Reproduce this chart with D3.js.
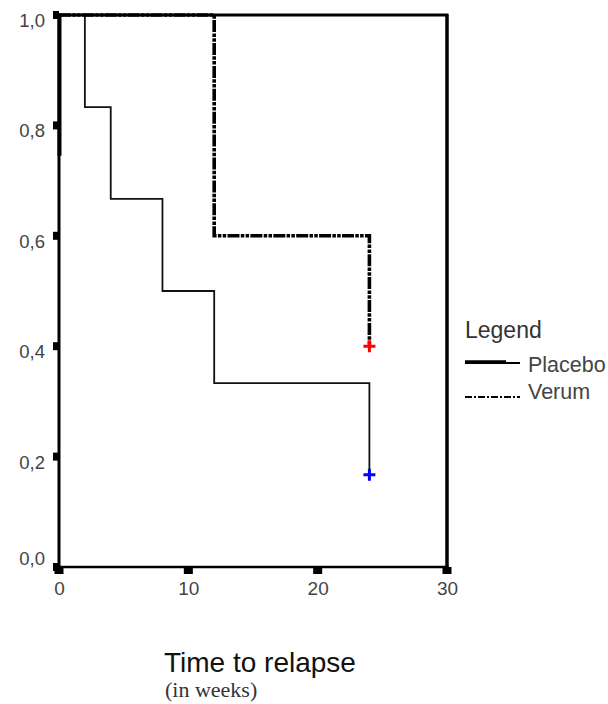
<!DOCTYPE html>
<html>
<head>
<meta charset="utf-8">
<script src="https://cdn.jsdelivr.net/npm/d3@7"></script>
<style>
body{margin:0;background:#fff;}
text{font-family:"Liberation Sans",Arial,sans-serif;}
</style>
</head>
<body>
<script>
// data
var placeboTime=[0,2,4,8,12,24];
var placeboSurv=[1,0.833,0.667,0.5,0.333,0.167];
var verumTime=[0,12,24];
var verumSurv=[1,0.6,0.4];
var censorTime=[24,24];
var censorSurv=[0.4,0.167];
var censorCol=["#ff0000","#0000ff"];
var xTicks=[0,10,20,30];
var yTicks=[0,0.2,0.4,0.6,0.8,1.0];
var legendNames=["Placebo","Verum"];

var W=608,H=704;
var svg=d3.select("body").append("svg")
    .attr("width",W)
    .attr("height",H);

var x=d3.scaleLinear().domain([0,30]).range([59,447]);
var y=d3.scaleLinear().domain([0,1]).range([567,15]);

//curves
var step=d3.line().curve(d3.curveStepAfter)
    .x(function(d){return x(d[0]);})
    .y(function(d){return y(d[1]);});

svg.append("path")
    .datum(placeboTime.map(function(t,i){return [t,placeboSurv[i]];}))
    .attr("d",step)
    .attr("fill","none").attr("stroke","#111").attr("stroke-width",1.8);

svg.append("path")
    .datum(verumTime.map(function(t,i){return [t,verumSurv[i]];}))
    .attr("d",step)
    .attr("fill","none").attr("stroke","#000").attr("stroke-width",3.6)
    .attr("stroke-dasharray","12,1.3,3.5,1.3,3.5,1.3");

//frame (drawn over the curves, like the original)
svg.append("line").attr("x1",x(0)).attr("x2",x(30)+1.5).attr("y1",y(1)).attr("y2",y(1))
    .attr("stroke","#000").attr("stroke-width",3);
svg.append("line").attr("x1",x(0)).attr("x2",x(30)+1.5).attr("y1",y(0)).attr("y2",y(0))
    .attr("stroke","#000").attr("stroke-width",2.5);
svg.append("line").attr("x1",x(30)).attr("x2",x(30)).attr("y1",y(1)).attr("y2",y(0)+1)
    .attr("stroke","#000").attr("stroke-width",3.5);
svg.append("line").attr("x1",x(0)).attr("x2",x(0)).attr("y1",y(1)-1).attr("y2",y(0)+1)
    .attr("stroke","#000").attr("stroke-width",3);
// thicker bit on the left axis near the top
svg.append("line").attr("x1",x(0)+0.5).attr("x2",x(0)+0.5).attr("y1",y(1)).attr("y2",y(0.745))
    .attr("stroke","#000").attr("stroke-width",4);

//ticks
svg.selectAll(".yt").data(yTicks).enter().append("rect")
    .attr("class","yt")
    .attr("x",x(0)-6).attr("y",function(d){return y(d)-4;})
    .attr("width",6).attr("height",8).attr("fill","#000");
svg.selectAll(".xt").data(xTicks).enter().append("rect")
    .attr("class","xt")
    .attr("x",function(d){return x(d)-4.5;}).attr("y",y(0))
    .attr("width",9).attr("height",7).attr("fill","#000");

var yAxis=d3.axisLeft(y).tickValues(yTicks)
    .tickFormat(function(d){return d.toFixed(1).replace(".",",");})
    .tickSize(0).tickPadding(14);
var ya=svg.append("g").attr("transform","translate("+x(0)+",0)").call(yAxis);
ya.select(".domain").remove();
ya.selectAll("text").attr("font-size",18.5).attr("fill","#444")
    .attr("font-family","Liberation Sans,Arial,sans-serif")
    .attr("dy",function(d){return d==0?"-0.15em":"0.62em";});

var xAxis=d3.axisBottom(x).tickValues(xTicks).tickFormat(d3.format("d"))
    .tickSize(0).tickPadding(15);
var xa=svg.append("g").attr("transform","translate(0,"+y(0)+")").call(xAxis);
xa.select(".domain").remove();
xa.selectAll("text").attr("font-size",19).attr("fill","#444")
    .attr("font-family","Liberation Sans,Arial,sans-serif");

//censor marks
svg.selectAll(".cen").data(censorTime).enter().append("path")
    .attr("class","cen")
    .attr("d",function(d,i){
        var cx=x(d),cy=y(censorSurv[i]);
        return "M"+(cx-6)+","+cy+"H"+(cx+6)+"M"+cx+","+(cy-6)+"V"+(cy+6);
    })
    .attr("stroke",function(d,i){return censorCol[i];})
    .attr("stroke-width",3).attr("fill","none");

//legend
svg.append("text").attr("x",465).attr("y",338).attr("font-size",23)
    .attr("fill","#333").text("Legend");
svg.append("line").attr("x1",465).attr("x2",506).attr("y1",362).attr("y2",362)
    .attr("stroke","#000").attr("stroke-width",3.5);
svg.append("line").attr("x1",465).attr("x2",520).attr("y1",363).attr("y2",363)
    .attr("stroke","#000").attr("stroke-width",1.8);
svg.append("line").attr("x1",465).attr("x2",520).attr("y1",397).attr("y2",397)
    .attr("stroke","#000").attr("stroke-width",2.2)
    .attr("stroke-dasharray","7,2,2,2");
svg.selectAll(".lt").data(legendNames).enter().append("text")
    .attr("class","lt")
    .attr("x",528).attr("y",function(d,i){return 372+i*27;})
    .attr("font-size",21.5).attr("fill","#444").text(function(d){return d;});

//axis title
svg.append("text").attr("x",164).attr("y",672).attr("font-size",28)
    .attr("fill","#111").text("Time to relapse");
svg.append("text").attr("x",165).attr("y",697).attr("font-size",22)
    .attr("fill","#333").style("font-family","Liberation Serif,Times New Roman,serif")
    .text("(in weeks)");
</script>
</body>
</html>
